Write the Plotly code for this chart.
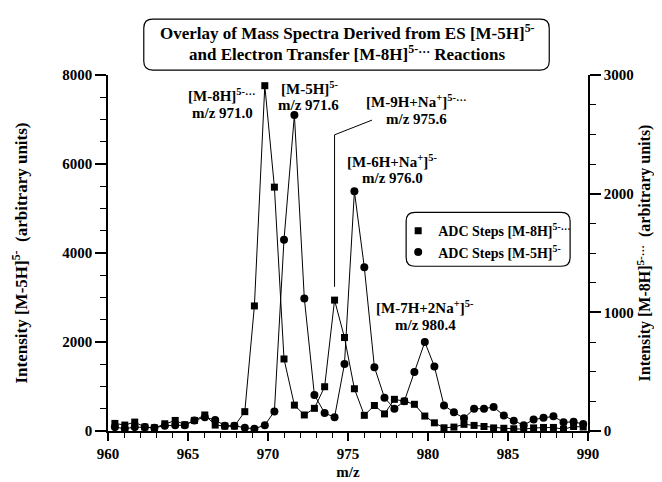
import plotly.graph_objects as go

# ---- data ----
mz = [960.43, 961.05, 961.67, 962.3, 962.9, 963.55, 964.2, 964.8, 965.4, 966.05,
      966.7, 967.3, 967.9, 968.55, 969.15, 969.8, 970.4, 971.0, 971.65, 972.27,
      972.9, 973.54, 974.16, 974.78, 975.4, 976.02, 976.65, 977.28, 977.9, 978.52,
      979.15, 979.8, 980.4, 981.0, 981.62, 982.25, 982.88, 983.5, 984.1, 984.74,
      985.36, 985.98, 986.6, 987.22, 987.84, 988.47, 989.1, 989.7]

# [M-5H]5- (circles, left axis)
m5h = [88, 51, 88, 88, 73, 118, 132, 132, 236, 310,
       250, 118, 118, 73, 51, 132, 441, 4300, 7100, 2980,
       810, 404, 309, 1507, 5385, 3679, 1435, 750, 500, 670,
       1324, 2000, 1450, 574, 420, 285, 500, 500, 540, 346,
       230, 132, 258, 300, 330, 195, 206, 155]

# [M-8H]5-. (squares, right axis)
m8h = [64, 50, 75, 33, 27, 61, 89, 53, 89, 135,
       50, 41, 41, 163, 1054, 2910, 2055, 607, 218, 135,
       191, 373, 1103, 788, 356, 132, 215, 144, 267, 251,
       225, 126, 69, 27, 33, 56, 47, 38, 26, 23,
       19, 15, 26, 30, 30, 15, 38, 34]

name_sq = "ADC Steps [M-8H]<sup>5-…</sup>"
name_ci = "ADC Steps [M-5H]<sup>5-</sup>"

FONT = "Liberation Serif, Times New Roman, serif"

# plot area in pixels
W, H = 662, 482
L, R, T, B = 97, 580, 67, 430


def px2x(px):
    return (px - L) / (R - L)


def py2y(py):
    return (B - py) / (B - T)


def rounded_box(x0, y0, x1, y1, r):
    rx = r / (R - L)
    ry = r / (B - T)
    X0, X1 = px2x(x0), px2x(x1)
    Y0, Y1 = py2y(y1), py2y(y0)  # Y0 bottom, Y1 top
    return (f"M {X0+rx},{Y1} L {X1-rx},{Y1} Q {X1},{Y1} {X1},{Y1-ry} "
            f"L {X1},{Y0+ry} Q {X1},{Y0} {X1-rx},{Y0} "
            f"L {X0+rx},{Y0} Q {X0},{Y0} {X0},{Y0+ry} "
            f"L {X0},{Y1-ry} Q {X0},{Y1} {X0+rx},{Y1} Z")


fig = go.Figure()

# lines
fig.add_trace(go.Scatter(x=mz, y=m8h, mode="lines", yaxis="y2",
                         line=dict(color="black", width=1), showlegend=False,
                         hoverinfo="skip"))
fig.add_trace(go.Scatter(x=mz, y=m5h, mode="lines", yaxis="y",
                         line=dict(color="black", width=1), showlegend=False,
                         hoverinfo="skip"))
# markers
fig.add_trace(go.Scatter(x=mz, y=m8h, mode="markers", yaxis="y2", name=name_sq,
                         marker=dict(symbol="square", size=7, color="black")))
fig.add_trace(go.Scatter(x=mz, y=m5h, mode="markers", yaxis="y", name=name_ci,
                         marker=dict(symbol="circle", size=8, color="black")))

tickfont = dict(family=FONT, size=15, color="black", weight="bold")
titlefont = dict(family=FONT, size=17, color="black", weight="bold")

fig.update_layout(
    width=W, height=H,
    margin=dict(l=L, r=W - R, t=T, b=H - B),
    paper_bgcolor="white", plot_bgcolor="white",
    xaxis=dict(range=[960, 990], dtick=5, tick0=960, ticks="outside", ticklen=8,
               tickwidth=1.5, tickcolor="black", showline=True, linecolor="black",
               linewidth=1.5, showgrid=False, zeroline=False, tickfont=tickfont,
               minor=dict(dtick=1, ticks="outside", ticklen=5, tickcolor="black",
                          tickwidth=1.2, showgrid=False),
               title=dict(text="m/z", font=dict(family=FONT, size=15, color="black",
                                                weight="bold"), standoff=6)),
    yaxis=dict(range=[0, 8000], dtick=2000, ticks="outside", ticklen=11,
               tickwidth=1.5, tickcolor="black", showline=True, linecolor="black",
               linewidth=1.5, showgrid=False, zeroline=False, tickfont=tickfont,
               minor=dict(dtick=500, ticks="outside", ticklen=6, tickcolor="black",
                          tickwidth=1.2, showgrid=False),
               title=dict(text="Intensity [M-5H]<sup>5-</sup>  (arbitrary units)",
                          font=titlefont, standoff=30)),
    yaxis2=dict(range=[0, 3000], dtick=1000, overlaying="y", side="right",
                ticks="outside", ticklen=11, tickwidth=1.5, tickcolor="black",
                showline=True, linecolor="black", linewidth=1.5, showgrid=False,
                zeroline=False, tickfont=tickfont,
                minor=dict(dtick=250, ticks="outside", ticklen=6, tickcolor="black",
                           tickwidth=1.2, showgrid=False),
                title=dict(text="Intensity [M-8H]<sup>5-…</sup>  (arbitrary units)",
                           font=dict(family=FONT, size=16, color="black",
                                     weight="bold"), standoff=2)),
    legend=dict(x=px2x(389), y=py2y(210), xanchor="left", yanchor="top",
                bgcolor="rgba(0,0,0,0)", borderwidth=0,
                font=dict(family=FONT, size=14, color="black", weight="bold"),
                itemwidth=30, tracegroupgap=2),
    showlegend=True,
)

shapes = [
    dict(type="path", xref="paper", yref="paper",
         path=rounded_box(133, 10, 541, 62, 9),
         line=dict(color="black", width=1.2), fillcolor="rgba(0,0,0,0)"),
    dict(type="path", xref="paper", yref="paper",
         path=rounded_box(397, 207, 562, 262, 9),
         line=dict(color="black", width=1.2), fillcolor="rgba(0,0,0,0)"),
]

# leader line for the [M-9H+Na+] label, starting above its square
xl = mz[22]
shapes.append(dict(type="path", xref="x", yref="paper",
                   path=f"M {xl},{py2y(283)} L {xl},{py2y(128)} L 976.5,{py2y(113)}",
                   line=dict(color="black", width=1)))
fig.update_layout(shapes=shapes)

labels = [
    ("Overlay of Mass Spectra Derived from ES [M-5H]<sup>5-</sup>", 338, 23, 17),
    ("and Electron Transfer [M-8H]<sup>5-…</sup> Reactions", 338, 45, 17),
    ("[M-8H]<sup>5-…</sup>", 212, 87, 15),
    ("m/z 971.0", 212, 106, 15),
    ("[M-5H]<sup>5-</sup>", 300, 80, 15),
    ("m/z 971.6", 299, 98, 15),
    ("[M-9H+Na<sup>+</sup>]<sup>5-…</sup>", 407, 94, 15),
    ("m/z 975.6", 407, 112, 15),
    ("[M-6H+Na<sup>+</sup>]<sup>5-</sup>", 383, 155, 15),
    ("m/z 976.0", 383, 172, 15),
    ("[M-7H+2Na<sup>+</sup>]<sup>5-</sup>", 416, 304, 15),
    ("m/z 980.4", 416, 322, 15),
]
for txt, px, py, fs in labels:
    fig.add_annotation(text=txt, xref="paper", yref="paper", x=px2x(px), y=py2y(py),
                       xanchor="center", yanchor="middle", showarrow=False,
                       font=dict(family=FONT, size=fs, color="black", weight="bold"))

fig.write_html("out.html")
